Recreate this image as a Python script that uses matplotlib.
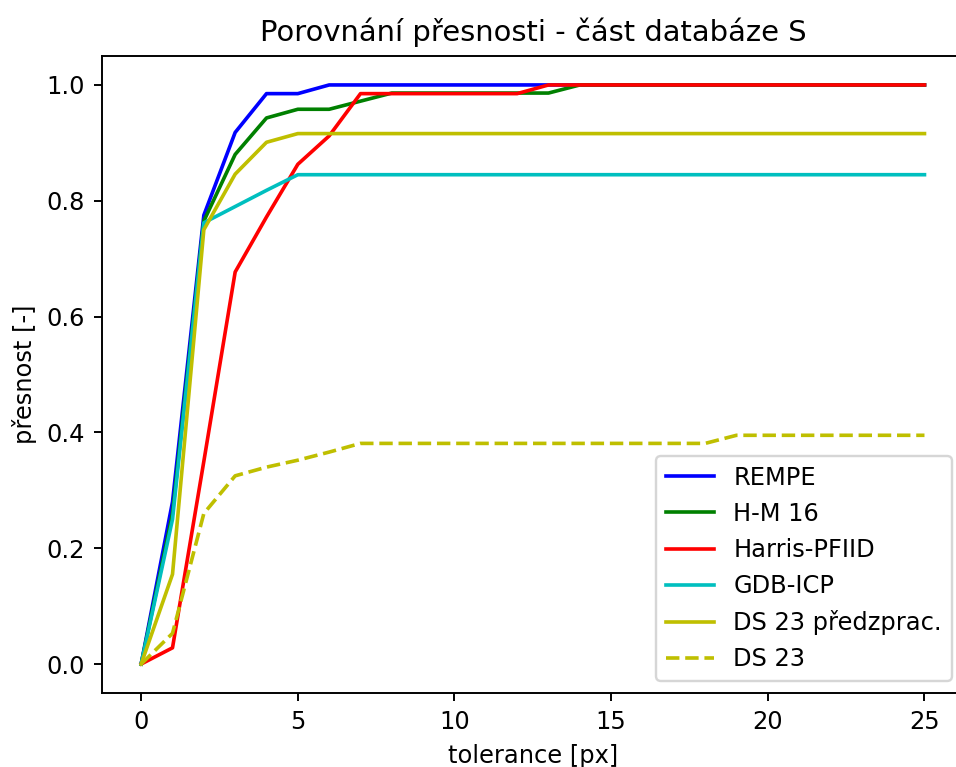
import matplotlib.pyplot as plt

tolerance = list(range(26))

rempe = [0, 0.28, 0.775, 0.918, 0.985, 0.985] + [1.0] * 20
hm16 = [0, 0.26, 0.765, 0.88, 0.943, 0.958, 0.958, 0.972, 0.986, 0.986,
        0.986, 0.986, 0.986, 0.986] + [1.0] * 12
harris = [0, 0.028, 0.35, 0.677, 0.772, 0.863, 0.912, 0.985, 0.985, 0.985,
          0.985, 0.985, 0.985] + [1.0] * 13
gdb_icp = [0, 0.25, 0.762, 0.79, 0.818] + [0.845] * 21
ds23_pre = [0, 0.155, 0.75, 0.846, 0.901] + [0.916] * 21
ds23 = [0, 0.053, 0.26, 0.325, 0.34, 0.352, 0.366] + [0.381] * 12 + [0.395] * 7

# original figure is slightly cropped on the right, so the axes run past the edge
fig = plt.figure(figsize=(956 / 174, 767 / 174), dpi=174)
plt.plot(tolerance, rempe, "b", label="REMPE")
plt.plot(tolerance, hm16, "g", label="H-M 16")
plt.plot(tolerance, harris, "r", label="Harris-PFIID")
plt.plot(tolerance, gdb_icp, "c", label="GDB-ICP")
plt.plot(tolerance, ds23_pre, "y", label="DS 23 předzprac.")
plt.plot(tolerance, ds23, "y--", label="DS 23")
plt.title("Porovnání přesnosti - část databáze S")
plt.xlabel("tolerance [px]")
plt.ylabel("přesnost [-]")
plt.legend(loc="lower right")
plt.subplots_adjust(left=0.1067, right=1.008, top=0.927, bottom=0.0965)
plt.savefig("out.png")
